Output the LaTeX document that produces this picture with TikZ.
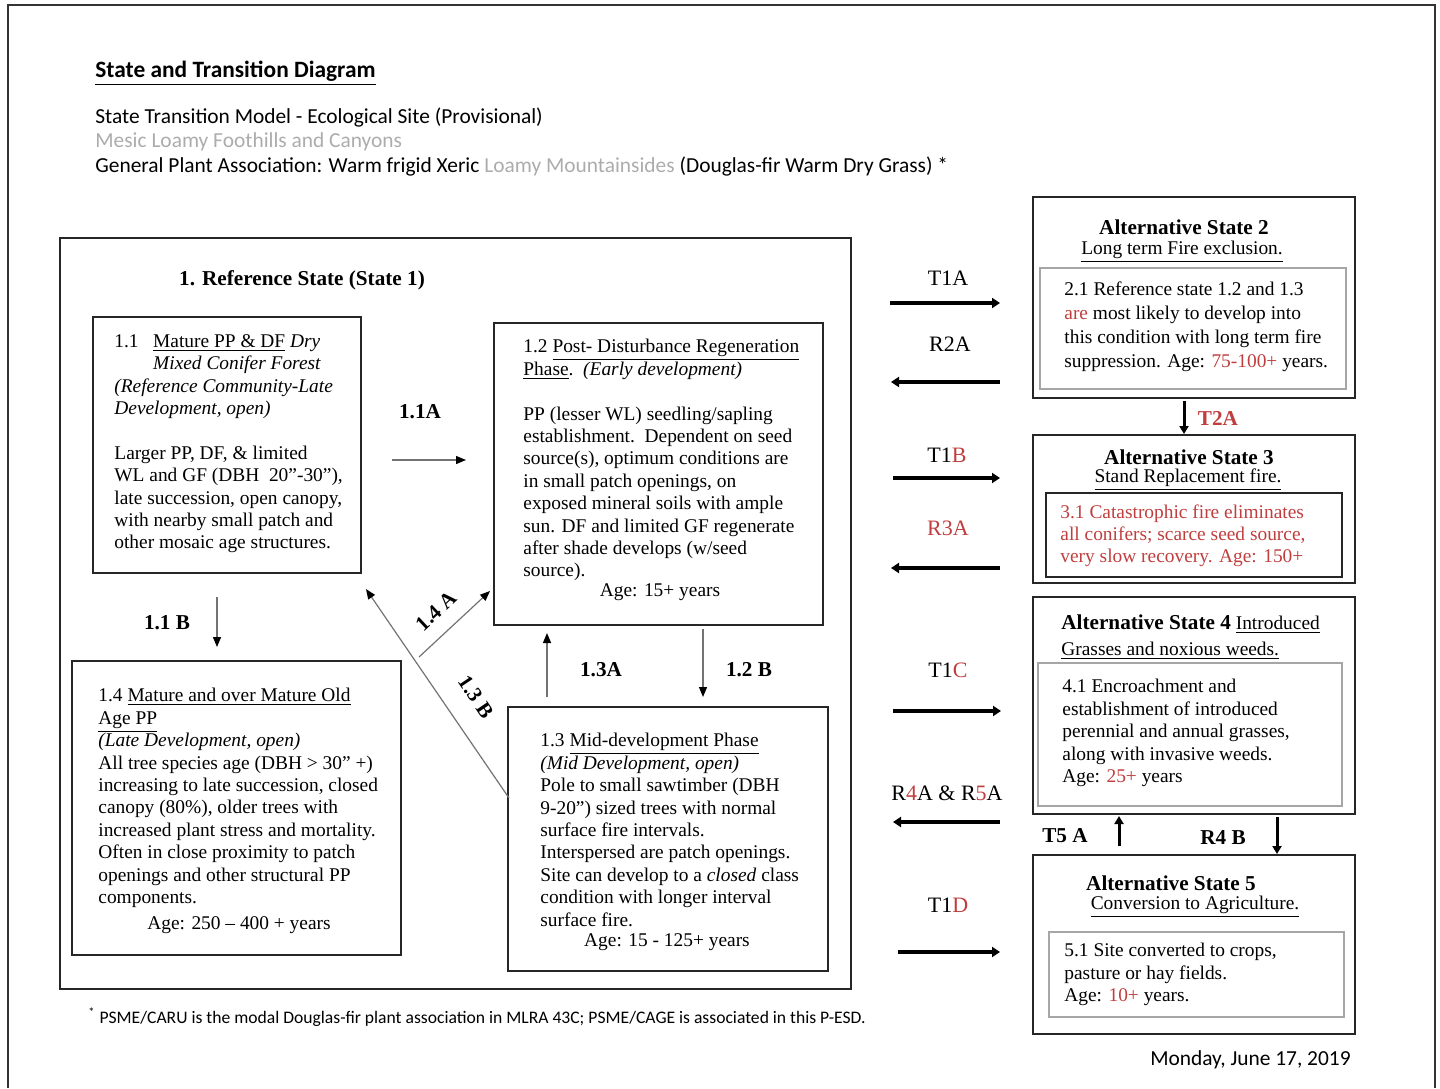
\documentclass[tikz,border=0pt]{standalone}
\usepackage{fontspec}
\setmainfont{Liberation Serif}
\newfontfamily\calibri{Carlito}
\usepackage{tikz}
\usetikzlibrary{arrows.meta,fit}

\definecolor{firered}{RGB}{192,62,62}
\definecolor{paletext}{RGB}{172,172,172}
\newcommand{\phasefont}{\fontsize{9.7}{11.2}\selectfont}
\newcommand{\headfont}{\calibri\fontsize{10.7}{12}\selectfont}
\newcommand{\lblfont}{\fontsize{10.6}{12}\selectfont\bfseries}

\begin{document}
\begin{tikzpicture}
  [x=0.5pt, y=-0.5pt,
   statebox/.style={draw=black!85, line width=1.1pt, inner sep=0},
   phasebox/.style={draw=black!85, line width=1pt, inner sep=0},
   greybox/.style={draw=black!35, line width=0.8pt, inner sep=0},
   blackbox/.style={draw=black!85, line width=0.9pt, inner sep=0},
   txt/.style={anchor=north west, inner sep=0, align=left, font=\phasefont},
   ctxt/.style={inner sep=0, font=\phasefont},
   lbl/.style={inner sep=0, font=\lblfont},
   tlbl/.style={inner sep=0, font=\fontsize{11}{12}\selectfont},
   thinarr/.style={draw=black!55, line width=0.6pt, -{Triangle[length=5pt,width=4pt,black]}},
   bigarr/.style={line width=2pt, -{Triangle[length=4pt,width=5pt]}},
   vertarr/.style={line width=1.5pt, -{Triangle[length=4pt,width=4.5pt]}}]

  \useasboundingbox (0,0) rectangle (1440,1088);

  % page frame
  \draw[line width=0.9pt, black!80] (8,1088) -- (8,5) -- (1435,5) -- (1435,1088);

  % heading
  \node[anchor=west, inner sep=0, font=\calibri\fontsize{11.7}{13}\selectfont\bfseries]
    (title) at (95,73) {\underline{State and Transition Diagram}};
  \node[anchor=west, inner sep=0, font=\headfont] (model) at (95,118)
    {State Transition Model - Ecological Site (Provisional)};
  \node[anchor=west, inner sep=0, font=\headfont, text=paletext] (site) at (95,142)
    {Mesic Loamy Foothills and Canyons};
  \node[anchor=west, inner sep=0, font=\headfont] (assoc) at (95,167)
    {General Plant Association: Warm frigid Xeric \textcolor{paletext}{Loamy Mountainsides} (Douglas-fir Warm Dry Grass) *};

  % reference state
  \node[phasebox, line width=1.2pt, fit={(60,238) (851,989)}] (ref) {};
  \node[lbl] (refttl) at (302,280) {1. Reference State (State 1)};

  % phase 1.1
  \node[phasebox, fit={(93,317) (361,573)}] (p11) {};
  \node[txt] (p11t) at (114,334)
    {1.1\ \ \ \underline{Mature PP \& DF} \textit{Dry}\\
     \hphantom{1.1\ \ \ }\textit{Mixed Conifer Forest}\\
     \textit{(Reference Community-Late}\\
     \textit{Development, open)}\\[11.2pt]
     Larger PP, DF, \& limited\\
     WL and GF (DBH\ \ 20”-30”),\\
     late succession, open canopy,\\
     with nearby small patch and\\
     other mosaic age structures.};

  % phase 1.2
  \node[phasebox, fit={(494,323) (823,625)}] (p12) {};
  \node[txt] (p12t) at (523,339)
    {1.2 \underline{Post- Disturbance Regeneration}\\
     \underline{Phase}.\ \ \textit{(Early development)}\\[11.2pt]
     PP (lesser WL) seedling/sapling\\
     establishment.\ \ Dependent on seed\\
     source(s), optimum conditions are\\
     in small patch openings, on\\
     exposed mineral soils with ample\\
     sun. DF and limited GF regenerate\\
     after shade develops (w/seed\\
     source).};
  \node[ctxt] (p12a) at (660,592) {Age: 15+ years};

  % phase 1.4
  \node[phasebox, fit={(72,661) (401,955)}] (p14) {};
  \node[txt] (p14t) at (98,688)
    {1.4 \underline{Mature and over Mature Old}\\
     \underline{Age PP}\\
     \textit{(Late Development, open)}\\
     All tree species age (DBH > 30” +)\\
     increasing to late succession, closed\\
     canopy (80\%), older trees with\\
     increased plant stress and mortality.\\
     Often in close proximity to patch\\
     openings and other structural PP\\
     components.};
  \node[ctxt] (p14a) at (239,925) {Age: 250 – 400 + years};

  % phase 1.3
  \node[phasebox, fit={(508,707) (828,971)}] (p13) {};
  \node[txt] (p13t) at (540,733)
    {1.3 \underline{Mid-development Phase}\\
     \textit{(Mid Development, open)}\\
     Pole to small sawtimber (DBH\\
     9-20”) sized trees with normal\\
     surface fire intervals.\\
     Interspersed are patch openings.\\
     Site can develop to a \textit{closed} class\\
     condition with longer interval\\
     surface fire.};
  \node[ctxt] (p13a) at (667,942) {Age: 15 - 125+ years};

  % pathways inside state 1
  \foreach \n/\xa/\ya/\xb/\yb in {a11a/392/460/466/460, a11b/217/597/217/647,
      a14a/419/657/490/591, a13b/509/798/366/589, a13a/547/697/547/633, a12b/703/629/703/697}
    {\coordinate (\n-s) at (\xa,\ya);
     \coordinate (\n-e) at (\xb,\yb);
     \draw[thinarr] (\n-s) -- (\n-e);}
  \node[lbl] (l11a) at (420,412) {1.1A};
  \node[lbl] (l11b) at (167,623) {1.1 B};
  \node[lbl, rotate=43] (l14a) at (436,611) {1.4 A};
  \node[lbl, rotate=-56] (l13b) at (476,697) {1.3 B};
  \node[lbl] (l13a) at (601,670) {1.3A};
  \node[lbl] (l12b) at (749,670) {1.2 B};

  % state 2
  \node[statebox, fit={(1033,197) (1355,398)}] (s2) {};
  \node[lbl] (s2ttl) at (1184,227) {Alternative State 2};
  \node[ctxt] (s2sub) at (1182,252) {\underline{Long term Fire exclusion.}};
  \node[greybox, fit={(1040,268) (1346,389)}] (s2in) {};
  \node[txt, font=\fontsize{9.7}{12}\selectfont] (s2t) at (1064,281)
    {2.1 Reference state 1.2 and 1.3\\
     \textcolor{firered}{are} most likely to develop into\\
     this condition with long term fire\\
     suppression. Age: \textcolor{firered}{75-100+} years.};

  % state 3
  \node[statebox, fit={(1033,435) (1355,583)}] (s3) {};
  \node[lbl] (s3ttl) at (1189,457) {Alternative State 3};
  \node[ctxt] (s3sub) at (1188,480) {\underline{Stand Replacement fire.}};
  \node[blackbox, fit={(1046,493) (1342,577)}] (s3in) {};
  \node[txt, text=firered] (s3t) at (1060,504)
    {3.1 Catastrophic fire eliminates\\
     all conifers; scarce seed source,\\
     very slow recovery. Age: 150+};

  % state 4
  \node[statebox, fit={(1033,597) (1355,814)}] (s4) {};
  \node[txt] (s4ttl) at (1061,614)
    {{\lblfont Alternative State 4} \underline{Introduced}\\[2pt]
     \underline{Grasses and noxious weeds.}};
  \node[greybox, fit={(1038,663) (1342,806)}] (s4in) {};
  \node[txt] (s4t) at (1062,679)
    {4.1 Encroachment and\\
     establishment of introduced\\
     perennial and annual grasses,\\
     along with invasive weeds.\\
     Age: \textcolor{firered}{25+} years};

  % state 5
  \node[statebox, fit={(1033,855) (1355,1034)}] (s5) {};
  \node[lbl] (s5ttl) at (1171,883) {Alternative State 5};
  \node[ctxt] (s5sub) at (1195,907) {\underline{Conversion to Agriculture.}};
  \node[greybox, fit={(1049,932) (1344,1017)}] (s5in) {};
  \node[txt] (s5t) at (1064,943)
    {5.1 Site converted to crops,\\
     pasture or hay fields.\\
     Age: \textcolor{firered}{10+} years.};

  % transitions and restorations
  \foreach \n/\xa/\xb/\y in {t1a/890/1000/303, r2a/1000/891/382, t1b/893/1000/478,
      r3a/1000/891/568, t1c/893/1001/711, r45a/1000/893/822, t1d/898/1000/952}
    {\coordinate (\n-s) at (\xa,\y);
     \coordinate (\n-e) at (\xb,\y);
     \draw[bigarr] (\n-s) -- (\n-e);}
  \node[tlbl] (lt1a) at (948,278) {T1A};
  \node[tlbl] (lr2a) at (950,344) {R2A};
  \node[tlbl] (lt1b) at (947,455) {T1\textcolor{firered}{B}};
  \node[tlbl, text=firered] (lr3a) at (948,528) {R3A};
  \node[tlbl] (lt1c) at (948,670) {T1\textcolor{firered}{C}};
  \node[tlbl] (lr45a) at (947,793) {R\textcolor{firered}{4}A \& R\textcolor{firered}{5}A};
  \node[tlbl] (lt1d) at (948,905) {T1\textcolor{firered}{D}};

  % between alternative states
  \foreach \n/\x/\ya/\yb in {t2a/1184/401/434, t5a/1119/846/816, r4b/1277/817/854}
    {\coordinate (\n-s) at (\x,\ya);
     \coordinate (\n-e) at (\x,\yb);
     \draw[vertarr] (\n-s) -- (\n-e);}
  \node[lbl, text=firered] (lt2a) at (1218,418) {T2A};
  \node[lbl] (lt5a) at (1065,836) {T5 A};
  \node[lbl] (lr4b) at (1223,838) {R4 B};

  % footnote and date
  \node[anchor=west, inner sep=0, font=\calibri\fontsize{8.8}{10}\selectfont] (note) at (88,1017)
    {\textsuperscript{*} PSME/CARU is the modal Douglas-fir plant association in MLRA 43C; PSME/CAGE is associated in this P-ESD.};
  \node[anchor=east, inner sep=0, font=\headfont] (date) at (1351,1060) {Monday, June 17, 2019};
\end{tikzpicture}
\end{document}
